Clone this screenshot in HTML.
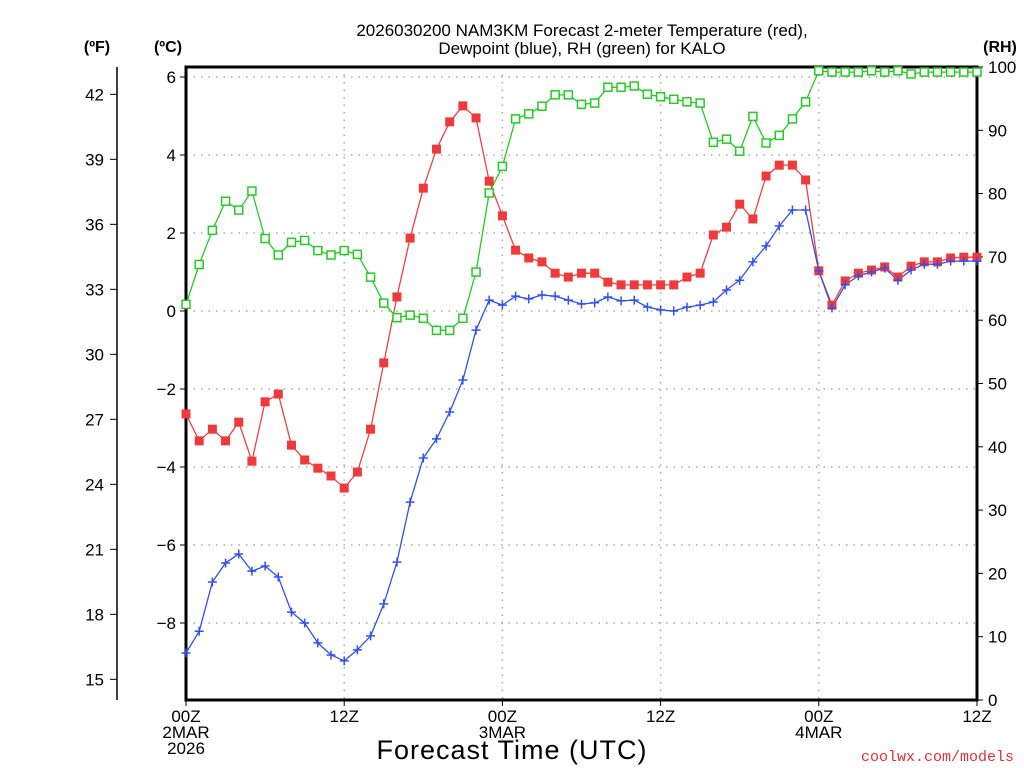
<!DOCTYPE html>
<html><head><meta charset="utf-8"><style>
html,body{margin:0;padding:0;background:#fff;}
svg{display:block;font-family:"Liberation Sans",sans-serif;}
</style></head><body>
<svg id="chart" width="1024" height="768" viewBox="0 0 1024 768" xmlns="http://www.w3.org/2000/svg">
<rect width="1024" height="768" fill="#fff"/>
<text x="582" y="36" font-size="17" text-anchor="middle" fill="#000">2026030200 NAM3KM Forecast 2-meter Temperature (red),</text>
<text x="582" y="54" font-size="17" text-anchor="middle" fill="#000">Dewpoint (blue), RH (green) for KALO</text>
<text x="97" y="52" font-size="16" font-weight="bold" text-anchor="middle">(ºF)</text>
<text x="168" y="52" font-size="16" font-weight="bold" text-anchor="middle">(ºC)</text>
<text x="1000" y="52" font-size="16" font-weight="bold" text-anchor="middle">(RH)</text>
<g id="grid"></g>
<g id="axes"></g>
<g id="series"></g>
<text x="512" y="759" font-size="27" text-anchor="middle" letter-spacing="1">Forecast Time (UTC)</text>
<text x="1014" y="761" font-size="15" text-anchor="end" fill="#e03030" font-family="Liberation Mono, monospace">coolwx.com/models</text>
</svg>
<script>
const hours = [0,1,2,3,4,5,6,7,8,9,10,11,12,13,14,15,16,17,18,19,20,21,22,23,24,25,26,27,28,29,30,31,32,33,34,35,36,37,38,39,40,41,42,43,44,45,46,47,48,49,50,51,52,53,54,55,56,57,58,59,60];
const tempC = [-2.64,-3.33,-3.03,-3.33,-2.85,-3.85,-2.33,-2.13,-3.44,-3.82,-4.03,-4.23,-4.54,-4.13,-3.03,-1.33,0.36,1.87,3.15,4.15,4.85,5.26,4.95,3.33,2.44,1.56,1.36,1.26,0.97,0.87,0.97,0.97,0.74,0.67,0.67,0.67,0.67,0.67,0.87,0.97,1.95,2.15,2.74,2.36,3.46,3.74,3.74,3.36,1.03,0.15,0.77,0.97,1.05,1.13,0.87,1.15,1.26,1.26,1.36,1.38,1.38];
const dewC = [-8.77,-8.21,-6.95,-6.46,-6.23,-6.67,-6.54,-6.82,-7.72,-8.0,-8.51,-8.82,-8.97,-8.69,-8.33,-7.51,-6.44,-4.9,-3.77,-3.28,-2.59,-1.77,-0.49,0.28,0.15,0.38,0.31,0.41,0.38,0.28,0.18,0.21,0.36,0.26,0.28,0.1,0.03,0,0.1,0.15,0.23,0.54,0.79,1.26,1.67,2.18,2.59,2.59,1.03,0.08,0.67,0.9,1.0,1.1,0.79,1.05,1.2,1.2,1.28,1.28,1.28];
const rh = [62.5,68.8,74.2,78.8,77.4,80.4,72.9,70.3,72.3,72.6,71.0,70.3,71.0,70.4,66.8,62.7,60.4,60.8,60.3,58.4,58.4,60.3,67.6,80.1,84.3,91.8,92.6,93.8,95.6,95.6,94.1,94.3,96.8,96.8,97.0,95.7,95.3,94.9,94.5,94.3,88.1,88.6,86.7,92.2,88.0,89.2,91.8,94.5,99.4,99.2,99.2,99.2,99.4,99.2,99.4,98.9,99.2,99.2,99.2,99.2,99.2];
const cTicks = [6,4,2,0,-2,-4,-6,-8];
const fTicks = [42,39,36,33,30,27,24,21,18,15];
const rhTicks = [0,10,20,30,40,50,60,70,80,90,100];
const xTickHours = [0,12,24,36,48,60];
const xTickLabels = [["00Z","2MAR","2026"],["12Z"],["00Z","3MAR"],["12Z"],["00Z","4MAR"],["12Z"]];

const L=186,R=977,T=67,B=700;
const xs=h=>L+(h-0)*(R-L)/60;
const yc=c=>311-c*39;
const yf=f=>yc((f-32)*5/9);
const yr=r=>B-r*(B-T)/100;
const NS="http://www.w3.org/2000/svg";
function mk(tag,attrs,parent){const e=document.createElementNS(NS,tag);for(const k in attrs)e.setAttribute(k,attrs[k]);parent.appendChild(e);return e;}
const grid=document.getElementById('grid'),axes=document.getElementById('axes'),series=document.getElementById('series');
const fmt=v=>v<0?'\u2212'+Math.abs(v):String(v);

cTicks.forEach(c=>{
  const y=yc(c);
  const g=mk('line',{x1:L,x2:R,y1:y,y2:y,stroke:'#aaa','stroke-width':1.5,'stroke-dasharray':'1.5 6'},grid);
  
  
  const t=mk('line',{x1:L-6,x2:L,y1:y,y2:y,stroke:'#000','stroke-width':1},axes);
  
  
  const tx=mk('text',{x:L-10,y:y+6,'font-size':17,'text-anchor':'end'},axes);
  tx.textContent=fmt(c);
  
  
});
xTickHours.forEach((h,i)=>{
  const x=xs(h);
  if(h>0&&h<60){const g=mk('line',{x1:x,x2:x,y1:T,y2:B,stroke:'#aaa','stroke-width':1.5,'stroke-dasharray':'1.5 6'},grid);
  
  }
  const t=mk('line',{x1:x,x2:x,y1:B,y2:B+6,stroke:'#000','stroke-width':1},axes);
  
  
  xTickLabels[i].forEach((s,j)=>{
    const tx=mk('text',{x:x,y:B+22+j*16,'font-size':17,'text-anchor':'middle'},axes);
    tx.textContent=s;
    
    
  });
});
fTicks.forEach(f=>{
  const y=yf(f);
  const t=mk('line',{x1:110,x2:117,y1:y,y2:y,stroke:'#000','stroke-width':1},axes);
  
  
  const tx=mk('text',{x:104,y:y+6,'font-size':17,'text-anchor':'end'},axes);
  tx.textContent=f;
  
  
});
rhTicks.forEach(r=>{
  const y=yr(r);
  const t=mk('line',{x1:R,x2:R+6,y1:y,y2:y,stroke:'#000','stroke-width':1},axes);
  
  
  const tx=mk('text',{x:R+11,y:y+6,'font-size':17,'text-anchor':'start'},axes);
  tx.textContent=r;
  
  
});
const fax=mk('line',{x1:117,x2:117,y1:T,y2:B,stroke:'#000','stroke-width':1.5},axes);


const box=mk('rect',{x:L,y:T,width:R-L,height:B-T,fill:'none',stroke:'#000','stroke-width':3},axes);



function line(vals,yfn,color,name){
  const pts=hours.map((h,i)=>xs(h).toFixed(1)+','+yfn(vals[i]).toFixed(1)).join(' ');
  const p=mk('polyline',{points:pts,fill:'none',stroke:color,'stroke-width':1.3},series);
  
  
}
line(rh,yr,'#22cc22','rh-line');
line(tempC,yc,'#ee4040','temperature-line');
line(dewC,yc,'#3050f0','dewpoint-line');
hours.forEach((h,i)=>{
  const x=xs(h);
  let y=yr(rh[i]);
  const s=mk('rect',{x:x-4,y:y-4,width:8,height:8,fill:'#fff',stroke:'#22cc22','stroke-width':1.5},series);
  
  
  y=yc(tempC[i]);
  const r=mk('rect',{x:x-4.5,y:y-4.5,width:9,height:9,fill:'#ee3a3a'},series);
  
  
  y=yc(dewC[i]);
  const d=mk('path',{d:`M${x-4.5},${y}H${x+4.5}M${x},${y-4.5}V${y+4.5}`,stroke:'#3050f0','stroke-width':1.5},series);
  
  
});
</script>
</body></html>
